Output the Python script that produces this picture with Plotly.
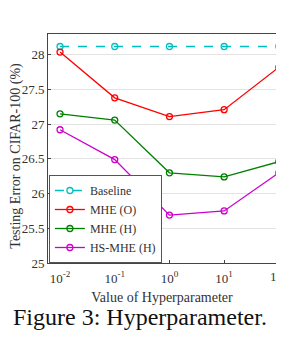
import plotly.graph_objects as go

x_vals = [0.01, 0.1, 1, 10, 100]
x_ticktext = ["10<sup>-2</sup>", "10<sup>-1</sup>", "10<sup>0</sup>", "10<sup>1</sup>", "10<sup>2</sup>"]
baseline = [28.12, 28.12, 28.12, 28.12, 28.12]
mhe_o = [28.04, 27.38, 27.11, 27.21, 27.82]
mhe_h = [27.15, 27.06, 26.30, 26.24, 26.46]
hs_mhe_h = [26.92, 26.49, 25.69, 25.75, 26.30]
y_ticks = [25, 25.5, 26, 26.5, 27, 27.5, 28]
y_ticktext = ["25", "25.5", "26", "26.5", "27", "27.5", "28"]

FONT = "Liberation Serif, Times New Roman, serif"

series = [
    ("Baseline", baseline, "#00BFBF", "dash"),
    ("MHE (O)", mhe_o, "#FF0000", "solid"),
    ("MHE (H)", mhe_h, "#008000", "solid"),
    ("HS-MHE (H)", hs_mhe_h, "#CC00CC", "solid"),
]

fig = go.Figure()
for name, vals, color, dash in series:
    fig.add_trace(go.Scatter(
        x=x_vals, y=vals, name=name, mode="lines+markers",
        line=dict(color=color, width=1.3, dash=dash),
        marker=dict(symbol="circle-open", size=6, color=color, line=dict(width=1.3, color=color)),
    ))

# page has an 8px body margin; figure is 268x322 placed at (8, 8) so nothing overflows
fig.update_layout(
    width=268, height=322,
    margin=dict(l=40, r=0, t=26, b=67),
    paper_bgcolor="white", plot_bgcolor="white",
    font=dict(family=FONT, size=13, color="#333"),
    showlegend=True,
    legend=dict(
        x=0.004, y=0.0, xanchor="left", yanchor="bottom",
        bgcolor="white", bordercolor="#555", borderwidth=1,
        font=dict(family=FONT, size=12, color="#333"),
        tracegroupgap=0, itemwidth=30,
    ),
    xaxis=dict(
        type="log", range=[-2.22, 1.948],
        tickvals=x_vals, ticktext=x_ticktext,
        showgrid=False, showline=True, linecolor="#444", linewidth=1, mirror=True,
        ticks="inside", ticklen=3, tickcolor="#444", ticklabelstandoff=3,
        tickfont=dict(family=FONT, size=13, color="#333"),
        automargin=False,
        title=dict(text="Value of Hyperparameter", font=dict(family=FONT, size=14, color="#333"), standoff=7),
    ),
    yaxis=dict(
        range=[25, 28.3],
        tickvals=y_ticks, ticktext=y_ticktext,
        showgrid=True, gridcolor="#e3e3e3", gridwidth=1,
        showline=True, linecolor="#444", linewidth=1, mirror=False,
        ticks="inside", ticklen=3, tickcolor="#444",
        tickfont=dict(family=FONT, size=13, color="#333"),
        zeroline=False, automargin=False,
    ),
)

fig.add_annotation(
    text="Testing Error on CIFAR-100 (%)", xref="paper", yref="paper",
    x=-0.142, y=0.467, xanchor="center", yanchor="middle", textangle=-90, showarrow=False,
    font=dict(family=FONT, size=14, color="#333"),
)

# partially visible last tick label, as in the reference
fig.add_annotation(
    text="10<sup>2</sup>", xref="paper", yref="paper",
    x=1.013, y=0, yshift=-13, xanchor="center", yanchor="middle", showarrow=False,
    font=dict(family=FONT, size=13, color="#333"),
)

fig.add_annotation(
    text="Figure 3: Hyperparameter.", xref="paper", yref="paper",
    x=0.404, y=-0.235, xanchor="center", yanchor="middle", showarrow=False,
    font=dict(family=FONT, size=24, color="#111"),
)

fig.write_html("out.html")
